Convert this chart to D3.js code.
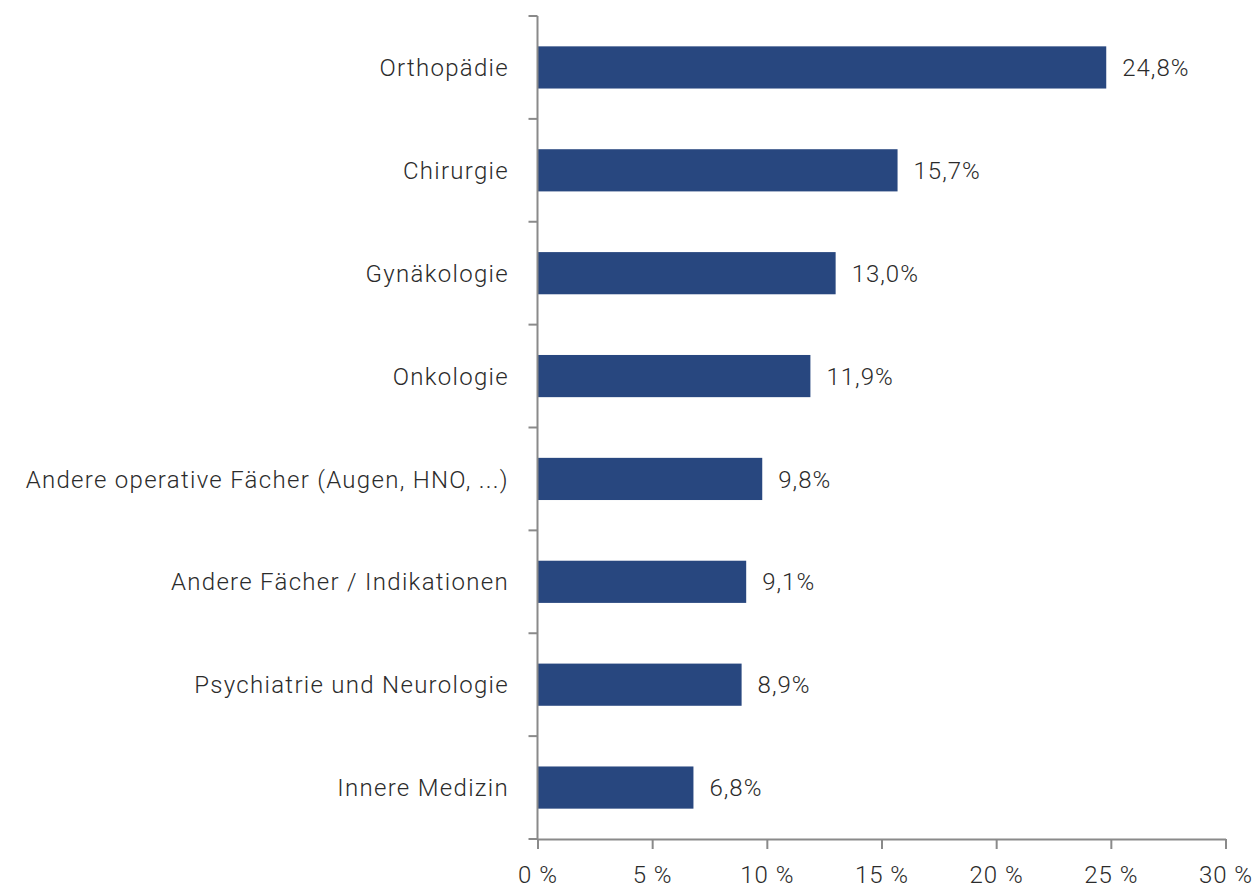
<!DOCTYPE html>
<html>
<head>
<meta charset="utf-8">
<script src="https://cdn.jsdelivr.net/npm/d3@7"></script>
<style>
  body { margin: 0; background: #fff; }
  text { font-family: Roboto, "Liberation Sans", sans-serif; fill: #2b2b2b; font-weight: 300; }
</style>
</head>
<body>
<script>
// data
var categories = ["Orthopädie", "Chirurgie", "Gynäkologie", "Onkologie",
                  "Andere operative Fächer (Augen, HNO, ...)", "Andere Fächer / Indikationen",
                  "Psychiatrie und Neurologie", "Innere Medizin"];
var shares = [24.8, 15.7, 13.0, 11.9, 9.8, 9.1, 8.9, 6.8];
var xTicks = [0, 5, 10, 15, 20, 25, 30];

var width = 1255, height = 888;
var plotLeft = 537.5, plotRight = 1225.5, plotTop = 16, plotBottom = 839;
var barColor = "#28477f", axisColor = "#8a8a8a";

let svg = d3.select("body").append("svg")
    .attr("width", width)
    .attr("height", height);

var x = d3.scaleLinear().domain([0, 30]).range([plotLeft, plotRight]);
var y = d3.scaleBand().domain(categories).range([plotTop, plotBottom])
    .paddingInner(0.59).paddingOuter(0.295);

// bars
svg.selectAll(".bar")
    .data(shares)
    .enter().append("rect")
    .attr("class", "bar")
    .attr("x", x(0))
    .attr("y", function(d, i) { return y(categories[i]); })
    .attr("width", function(d) { return x(d) - x(0); })
    .attr("height", y.bandwidth())
    .attr("fill", barColor);

// value labels
svg.selectAll(".val")
    .data(shares)
    .enter().append("text")
    .attr("class", "val")
    .attr("x", function(d) { return x(d) + 16; })
    .attr("y", function(d, i) { return y(categories[i]) + y.bandwidth() / 2; })
    .attr("dy", "0.36em")
    .style("font-size", "24px")
    .style("letter-spacing", "1px")
    .text(function(d) { return d.toFixed(1).replace(".", ",") + "%"; });

// category labels
svg.selectAll(".cat")
    .data(categories)
    .enter().append("text")
    .attr("class", "cat")
    .attr("x", 509)
    .attr("y", function(d) { return y(d) + y.bandwidth() / 2; })
    .attr("dy", "0.36em")
    .attr("text-anchor", "end")
    .style("font-size", "24px")
    .style("letter-spacing", "1.3px")
    .text(function(d) { return d; });

// y axis with ticks at band boundaries
var step = y.step();
var boundaries = d3.range(categories.length + 1).map(function(i) { return plotTop + i * step; });
svg.append("line")
    .attr("x1", plotLeft).attr("x2", plotLeft)
    .attr("y1", plotTop).attr("y2", plotBottom)
    .attr("stroke", axisColor).attr("stroke-width", 2);
svg.selectAll(".ytick")
    .data(boundaries)
    .enter().append("line")
    .attr("class", "ytick")
    .attr("x1", plotLeft - 9).attr("x2", plotLeft)
    .attr("y1", function(d) { return d; })
    .attr("y2", function(d) { return d; })
    .attr("stroke", axisColor).attr("stroke-width", 2);

// x axis
var xAxis = d3.axisBottom(x)
    .tickValues(xTicks)
    .tickFormat(function(d) { return d + " %"; })
    .tickSize(10)
    .tickSizeOuter(0)
    .tickPadding(17);

var gx = svg.append("g")
    .attr("transform", "translate(0," + plotBottom + ")")
    .call(xAxis);
gx.select(".domain").attr("stroke", axisColor).attr("stroke-width", 2);
gx.selectAll(".tick line").attr("stroke", axisColor).attr("stroke-width", 2);
gx.selectAll(".tick text")
    .attr("fill", "#2b2b2b")
    .style("font-size", "24px")
    .style("font-weight", "300")
    .style("letter-spacing", "1px")
    .style("font-family", "Roboto, 'Liberation Sans', sans-serif");
</script>
</body>
</html>
